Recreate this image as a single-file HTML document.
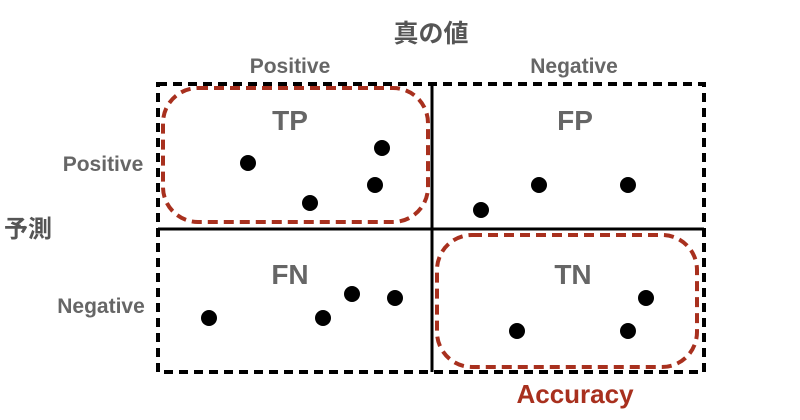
<!DOCTYPE html>
<html><head><style>body{margin:0;background:#fff}svg{display:block}</style></head><body>
<svg width="800" height="420" viewBox="0 0 800 420" xmlns="http://www.w3.org/2000/svg" font-family="'Liberation Sans','Noto Sans CJK JP',sans-serif" font-weight="bold">
<rect x="158" y="84" width="546" height="288" fill="none" stroke="#000" stroke-width="4" stroke-dasharray="9,6"/>
<line x1="432" y1="84" x2="432" y2="372" stroke="#000" stroke-width="3"/>
<line x1="158" y1="229" x2="704" y2="229" stroke="#000" stroke-width="3"/>
<rect x="163" y="88" width="265" height="134" rx="35" fill="none" stroke="#a8301e" stroke-width="4" stroke-dasharray="10,6"/>
<rect x="437" y="235" width="260" height="132" rx="35" fill="none" stroke="#a8301e" stroke-width="4" stroke-dasharray="10,6"/>
<g fill="#666" text-anchor="middle">
<text x="431" y="42" font-size="25" fill="#555">真の値</text>
<text x="290" y="73" font-size="21">Positive</text>
<text x="574" y="73" font-size="21">Negative</text>
<text x="103" y="171" font-size="21">Positive</text>
<text x="101" y="313" font-size="21">Negative</text>
<text x="28" y="237" font-size="24" fill="#555">予測</text>
<text x="290" y="130" font-size="28">TP</text>
<text x="575" y="130" font-size="28">FP</text>
<text x="290" y="284" font-size="28">FN</text>
<text x="573" y="284" font-size="28">TN</text>
</g>
<text x="575" y="403" font-size="26" fill="#a8301e" text-anchor="middle">Accuracy</text>
<g fill="#000">
<circle cx="248" cy="163" r="8"/><circle cx="382" cy="148" r="8"/><circle cx="375" cy="185" r="8"/><circle cx="310" cy="203" r="8"/>
<circle cx="539" cy="185" r="8"/><circle cx="628" cy="185" r="8"/><circle cx="481" cy="210" r="8"/>
<circle cx="209" cy="318" r="8"/><circle cx="323" cy="318" r="8"/><circle cx="352" cy="294" r="8"/><circle cx="395" cy="298" r="8"/>
<circle cx="646" cy="298" r="8"/><circle cx="517" cy="331" r="8"/><circle cx="628" cy="331" r="8"/>
</g>
</svg>
</body></html>
